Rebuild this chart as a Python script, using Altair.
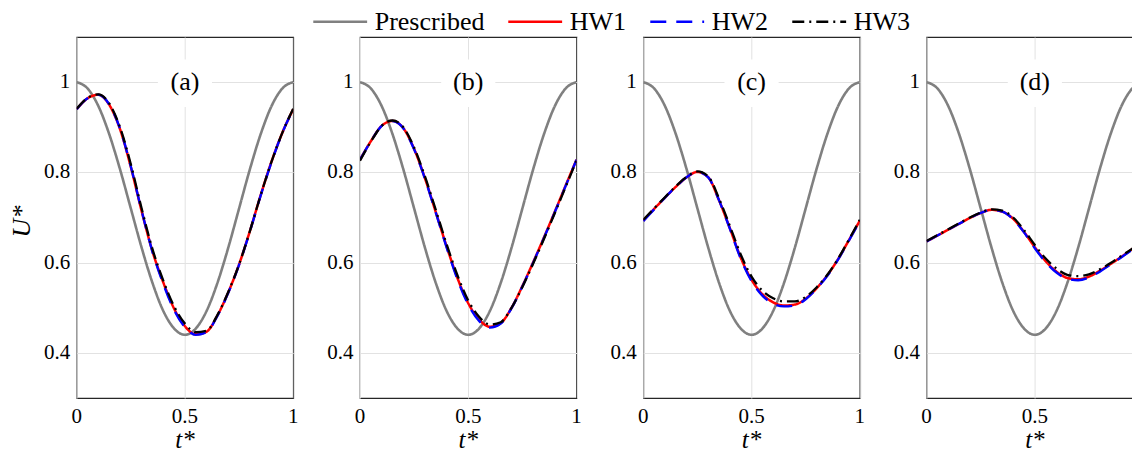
import altair as alt
import pandas as pd

FONT = "Liberation Serif"

# time grid (t*)
T = [0.00, 0.05, 0.10, 0.15, 0.20, 0.25, 0.30, 0.35, 0.40, 0.45, 0.50,
     0.55, 0.60, 0.65, 0.70, 0.75, 0.80, 0.85, 0.90, 0.95, 1.00]

# prescribed velocity (same in every panel)
PRESCRIBED = [1.000, 0.986, 0.947, 0.885, 0.807, 0.720, 0.633, 0.555, 0.493, 0.454, 0.440,
              0.454, 0.493, 0.555, 0.633, 0.720, 0.807, 0.885, 0.947, 0.986, 1.000]

# panel (a)
A_HW1 = [0.940, 0.964, 0.972, 0.950, 0.896, 0.812, 0.714, 0.625, 0.556, 0.498, 0.459,
         0.441, 0.447, 0.483, 0.534, 0.596, 0.670, 0.750, 0.824, 0.888, 0.940]
A_HW2 = [0.940, 0.964, 0.972, 0.951, 0.897, 0.813, 0.715, 0.624, 0.553, 0.495, 0.457,
         0.440, 0.446, 0.482, 0.533, 0.595, 0.669, 0.749, 0.823, 0.888, 0.940]
A_HW3 = [0.941, 0.965, 0.973, 0.953, 0.900, 0.818, 0.720, 0.630, 0.560, 0.503, 0.465,
         0.446, 0.449, 0.484, 0.535, 0.596, 0.670, 0.750, 0.824, 0.888, 0.941]

# panel (b)
B_HW1 = [0.828, 0.869, 0.903, 0.914, 0.898, 0.852, 0.787, 0.712, 0.636, 0.566, 0.510,
         0.474, 0.458, 0.466, 0.500, 0.548, 0.601, 0.656, 0.713, 0.771, 0.828]
B_HW2 = [0.828, 0.869, 0.903, 0.914, 0.898, 0.851, 0.786, 0.711, 0.634, 0.563, 0.507,
         0.471, 0.456, 0.465, 0.499, 0.547, 0.600, 0.655, 0.712, 0.770, 0.828]
B_HW3 = [0.826, 0.868, 0.903, 0.915, 0.900, 0.855, 0.791, 0.717, 0.641, 0.572, 0.516,
         0.480, 0.463, 0.468, 0.500, 0.546, 0.598, 0.653, 0.710, 0.768, 0.826]

# panel (c)
C_HW1 = [0.693, 0.719, 0.744, 0.768, 0.789, 0.801, 0.789, 0.738, 0.676, 0.611, 0.562,
         0.530, 0.512, 0.505, 0.507, 0.520, 0.543, 0.572, 0.608, 0.650, 0.693]
C_HW2 = [0.692, 0.718, 0.744, 0.768, 0.789, 0.801, 0.789, 0.738, 0.675, 0.609, 0.559,
         0.527, 0.509, 0.503, 0.505, 0.519, 0.542, 0.571, 0.607, 0.649, 0.692]
C_HW3 = [0.695, 0.720, 0.745, 0.769, 0.790, 0.802, 0.791, 0.742, 0.681, 0.618, 0.569,
         0.538, 0.521, 0.514, 0.514, 0.524, 0.545, 0.573, 0.609, 0.651, 0.695]

# panel (d)
D_HW1 = [0.647, 0.660, 0.673, 0.686, 0.699, 0.710, 0.717, 0.713, 0.697, 0.668, 0.634,
         0.603, 0.580, 0.566, 0.563, 0.569, 0.582, 0.597, 0.613, 0.630, 0.647]
D_HW2 = [0.647, 0.660, 0.673, 0.686, 0.699, 0.710, 0.717, 0.713, 0.696, 0.667, 0.632,
         0.601, 0.578, 0.564, 0.561, 0.567, 0.580, 0.596, 0.612, 0.629, 0.647]
D_HW3 = [0.648, 0.661, 0.674, 0.687, 0.700, 0.711, 0.718, 0.715, 0.700, 0.672, 0.639,
         0.609, 0.587, 0.573, 0.570, 0.574, 0.585, 0.599, 0.615, 0.631, 0.648]

SERIES = ["Prescribed", "HW1", "HW2", "HW3"]
PANELS = ["(a)", "(b)", "(c)", "(d)"]
X_TICKS = [0, 0.5, 1]
X_TICK_LABELS = ["0", "0.5", "1"]
Y_TICKS = [0.4, 0.6, 0.8, 1.0]
Y_TICK_LABELS = ["0.4", "0.6", "0.8", "1"]
X_TITLE = "t*"
Y_TITLE = "U*"

PANEL_DATA = {
    "(a)": [PRESCRIBED, A_HW1, A_HW2, A_HW3],
    "(b)": [PRESCRIBED, B_HW1, B_HW2, B_HW3],
    "(c)": [PRESCRIBED, C_HW1, C_HW2, C_HW3],
    "(d)": [PRESCRIBED, D_HW1, D_HW2, D_HW3],
}

rows = []
for p, series_vals in PANEL_DATA.items():
    for name, vals in zip(SERIES, series_vals):
        for i, (t, u) in enumerate(zip(T, vals)):
            rows.append({"panel": p, "series": name, "t": t, "U": u, "i": i})
df = pd.DataFrame(rows)
xt = pd.DataFrame({"v": X_TICKS, "lab": X_TICK_LABELS})
yt = pd.DataFrame({"v": Y_TICKS, "lab": Y_TICK_LABELS})

color_scale = alt.Scale(domain=SERIES, range=["#808080", "#ff0000", "#0000ff", "#000000"])
dash_scale = alt.Scale(domain=SERIES, range=[[1, 0], [1, 0], [16, 10], [12, 5, 2, 5]])
width_scale = alt.Scale(domain=SERIES, range=[2.6, 2.3, 2.3, 2.4])

legend = alt.Legend(
    title=None, orient="none", legendX=235, legendY=-44, direction="horizontal",
    symbolType="stroke", symbolSize=2900, labelFont=FONT, labelFontSize=26,
    labelColor="#000000", labelOffset=6, columnPadding=18, symbolOffset=0, padding=0,
)

W, H = 216.5, 361


def axis(values):
    return alt.Axis(values=values, labels=False, title=None, grid=True, gridColor="#e2e2e2",
                    gridWidth=1, domain=False, ticks=False)


def make_panel(p, first):
    d = df[df.panel == p]
    x_scale = alt.Scale(domain=[0, 1], nice=False, zero=False)
    y_scale = alt.Scale(domain=[0.3, 1.1], nice=False, zero=False)
    x_axis = axis(X_TICKS)
    y_axis = axis(Y_TICKS)

    lines = alt.Chart(d).mark_line(interpolate="monotone", clip=True).encode(
        x=alt.X("t:Q", scale=x_scale, axis=x_axis, title=None),
        y=alt.Y("U:Q", scale=y_scale, axis=y_axis, title=None),
        color=alt.Color("series:N", scale=color_scale, sort=SERIES, legend=legend),
        strokeDash=alt.StrokeDash("series:N", scale=dash_scale, sort=SERIES, legend=legend),
        strokeWidth=alt.StrokeWidth("series:N", scale=width_scale, sort=SERIES, legend=legend),
        order=alt.Order("i:Q"),
    )
    lab = pd.DataFrame({"label": [p], "xt": [X_TITLE], "yt": [Y_TITLE]})
    box = alt.Chart(lab).mark_rect(color="white").encode(
        x=alt.XDatum(0.375, type="quantitative", scale=x_scale, axis=x_axis, title=None),
        x2=alt.X2Datum(0.625),
        y=alt.YDatum(0.945, type="quantitative", scale=y_scale, axis=y_axis, title=None),
        y2=alt.Y2Datum(1.05),
    )
    text = alt.Chart(lab).mark_text(font=FONT, fontSize=26, color="#000000", baseline="middle").encode(
        x=alt.XDatum(0.5, type="quantitative", scale=x_scale, axis=x_axis, title=None),
        y=alt.YDatum(1.0, type="quantitative", scale=y_scale, axis=y_axis, title=None),
        text="label:N",
    )
    xlabels = alt.Chart(xt).mark_text(font=FONT, fontSize=21, color="#000000",
                                      baseline="middle", align="center").encode(
        x=alt.X("v:Q", scale=x_scale, axis=x_axis, title=None),
        y=alt.value(H + 19),
        text="lab:N",
    )
    ylabels = alt.Chart(yt).mark_text(font=FONT, fontSize=21, color="#000000",
                                      baseline="middle", align="right").encode(
        x=alt.value(-6.5),
        y=alt.Y("v:Q", scale=y_scale, axis=y_axis, title=None),
        text="lab:N",
    )
    xtitle = alt.Chart(lab).mark_text(font=FONT, fontSize=25, fontStyle="italic", color="#000000",
                                      baseline="alphabetic", align="center").encode(
        x=alt.value(W / 2), y=alt.value(H + 49.5), text="xt:N",
    )
    layers = [box, lines, text, xlabels, ylabels, xtitle]
    if first:
        ytitle = alt.Chart(lab).mark_text(font=FONT, fontSize=26, fontStyle="italic", color="#000000",
                                          baseline="middle", align="center", angle=270).encode(
            x=alt.value(-55), y=alt.value(H / 2 + 4), text="yt:N",
        )
        layers.append(ytitle)
    return alt.layer(*layers).properties(width=W, height=H)


panels = [make_panel(p, i == 0) for i, p in enumerate(PANELS)]

chart = alt.hconcat(*panels, spacing=66.3, bounds="flush").properties(
    autosize=alt.AutoSizeParams(type="none"),
    padding={"left": 68.7, "top": 29, "right": 1055.3, "bottom": 411},
).configure(
    font=FONT
).configure_view(
    stroke="#262626", strokeWidth=1.2
)

chart.save("out.html", embed_options={"renderer": "svg", "actions": False})
